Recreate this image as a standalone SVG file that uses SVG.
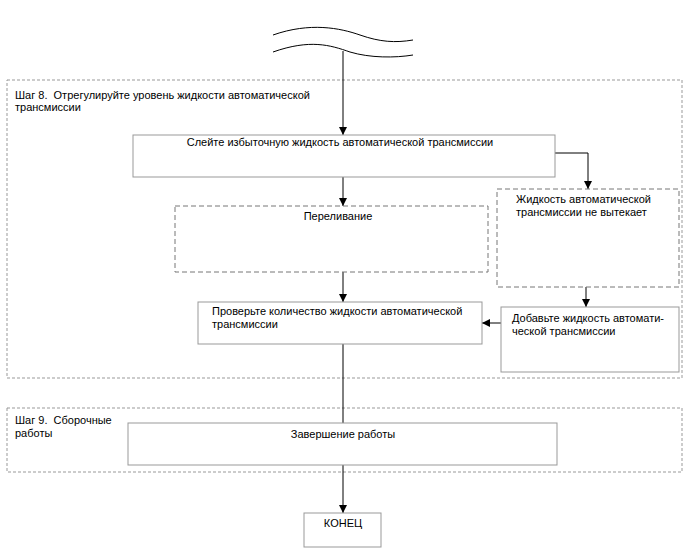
<svg xmlns="http://www.w3.org/2000/svg" width="688" height="560" viewBox="0 0 688 560">
<style>
text{font-family:"Liberation Sans",Arial,sans-serif;font-size:11px;fill:#000}
.step{fill:none;stroke:#999;stroke-width:1;stroke-dasharray:3,2}
.box{fill:#fff;stroke:#999;stroke-width:1}
.dbox{fill:#fff;stroke:#777;stroke-width:1;stroke-dasharray:5,3}
.con{fill:none;stroke:#000;stroke-width:1}
.wave{fill:none;stroke:#000;stroke-width:1}
</style>
<defs>
<marker id="ah" viewBox="0 0 8 10" refX="8" refY="5" markerWidth="8" markerHeight="10" markerUnits="userSpaceOnUse" orient="auto">
<path d="M0,1 L8,5 L0,9 Z" fill="#000"/>
</marker>
</defs>
<g id="break">
<path class="wave" d="M273,35 C310,22 340,28 360,35 C380,42 395,43 413,40"/>
<path class="wave" d="M273,52 C310,39 330,45 350,52 C370,58 395,58 413,55"/>
</g>
<g id="step8">
<rect class="step" x="7" y="80" width="675" height="298"/>
<text x="15" y="99">Шаг 8.&#160; Отрегулируйте уровень жидкости автоматической</text>
<text x="15" y="111">трансмиссии</text>
</g>
<g id="step9">
<rect class="step" x="7" y="408" width="675" height="64"/>
<text x="15" y="424">Шаг 9.&#160; Сборочные</text>
<text x="15" y="437">работы</text>
</g>
<g id="connectors">
<path class="con" d="M343,51 V135" marker-end="url(#ah)"/>
<path class="con" d="M555,153 H588 V189" marker-end="url(#ah)"/>
<path class="con" d="M343,177 V206" marker-end="url(#ah)"/>
<path class="con" d="M343,272 V302" marker-end="url(#ah)"/>
<path class="con" d="M586,287 V307" marker-end="url(#ah)"/>
<path class="con" d="M501,323 H482" marker-end="url(#ah)"/>
<path class="con" d="M343,344 V423"/>
<path class="con" d="M343,465 V513" marker-end="url(#ah)"/>
</g>
<g id="drain">
<rect class="box" x="133" y="135" width="422" height="42"/>
<text x="340" y="146" text-anchor="middle">Слейте избыточную жидкость автоматической трансмиссии</text>
</g>
<g id="overflow">
<rect class="dbox" x="175" y="206" width="313" height="66"/>
<text x="338" y="220" text-anchor="middle">Переливание</text>
</g>
<g id="noleak">
<rect class="dbox" x="497" y="189" width="182" height="98"/>
<text x="516" y="203">Жидкость автоматической</text>
<text x="516" y="216">трансмиссии не вытекает</text>
</g>
<g id="check">
<rect class="box" x="198" y="302" width="284" height="42"/>
<text x="212" y="315">Проверьте количество жидкости автоматической</text>
<text x="212" y="328">трансмиссии</text>
</g>
<g id="add">
<rect class="box" x="501" y="307" width="178" height="65"/>
<text x="512" y="322">Добавьте жидкость автомати-</text>
<text x="512" y="335">ческой трансмиссии</text>
</g>
<g id="finish">
<rect class="box" x="128" y="423" width="429" height="42"/>
<text x="343" y="438" text-anchor="middle">Завершение работы</text>
</g>
<g id="end">
<rect class="box" x="304" y="513" width="77" height="34"/>
<text x="343" y="527" text-anchor="middle">КОНЕЦ</text>
</g>
</svg>
